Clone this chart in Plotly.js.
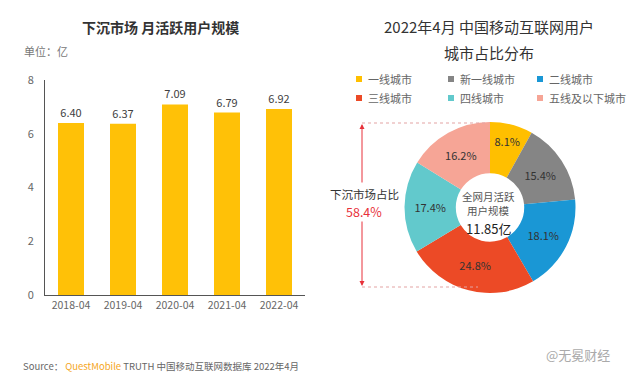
<!DOCTYPE html>
<html>
<head>
<meta charset="utf-8">
<script src="https://cdn.plot.ly/plotly-3.0.1.min.js"></script>
<style>html,body{margin:0;padding:0;background:#fff;}#chart{width:640px;height:378px;}</style>
</head>
<body>
<div id="chart"></div>
<script>
// ---- data ----
const years = ['2018-04', '2019-04', '2020-04', '2021-04', '2022-04'];
const mau = [6.40, 6.37, 7.09, 6.79, 6.92];
const yTicks = [0, 2, 4, 6, 8];

const cityTiers = ['一线城市', '新一线城市', '二线城市', '三线城市', '四线城市', '五线及以下城市'];
const cityShare = [8.1, 15.4, 18.1, 24.8, 17.4, 16.2];
const tierColors = ['#FFBF00', '#858585', '#1A97D5', '#EC4A26', '#62C9CC', '#F6A596'];

const totalMau = '11.85亿';
const lowTierShare = '58.4%';

// ---- helpers (pixel -> paper) ----
const W = 640, H = 378;
const px = x => x / W;
const py = y => 1 - y / H;
const FONT = '"Noto Sans CJK SC", "Noto Sans", sans-serif';

const traces = [
  {
    type: 'bar', x: years, y: mau,
    marker: {color: '#FFC107', line: {width: 0}},
    text: mau.map(v => v.toFixed(2)), textposition: 'outside',
    textfont: {size: 11, color: '#404040', family: FONT},
    cliponaxis: false, hoverinfo: 'skip', showlegend: false,
    xaxis: 'x', yaxis: 'y'
  },
  {
    type: 'pie', labels: cityTiers, values: cityShare,
    marker: {colors: tierColors, line: {width: 0}},
    hole: 0.4, sort: false, direction: 'clockwise', rotation: 0,
    texttemplate: '%{value:.1f}%', textposition: 'inside', insidetextorientation: 'horizontal',
    textfont: {size: 11, color: '#333', family: FONT},
    domain: {x: [px(403), px(577)], y: [py(293), py(122)]},
    showlegend: false, hoverinfo: 'skip'
  }
];

function ann(text, x, y, size, color, extra) {
  return Object.assign({text: text, x: px(x), y: py(y), xref: 'paper', yref: 'paper', xanchor: 'center', yanchor: 'middle',
    showarrow: false, font: {size: size, color: color, family: FONT}}, extra || {});
}

const annotations = [
  ann('下沉市场 月活跃用户规模', 160, 27, 14, '#333', {font: {size: 14, color: '#333', family: FONT, weight: 'bold'}}),
  ann('单位：亿', 22, 51, 11, '#777', {xanchor: 'left'}),
  ann('2022年4月 中国移动互联网用户', 489, 27, 15, '#333'),
  ann('城市占比分布', 489, 52, 15, '#333'),
  ann('全网月活跃', 488, 196, 10.5, '#555'),
  ann('用户规模', 488, 210, 10.5, '#555'),
  ann(totalMau, 488, 228, 13, '#222'),
  ann('下沉市场占比', 364, 194, 11.5, '#333'),
  ann(lowTierShare, 364, 211, 12.5, '#E8303A'),
  // arrows
  {text: '', x: px(362), y: py(124), xref: 'paper', yref: 'paper', showarrow: true, ax: 0, ay: 60,
   arrowhead: 2, arrowsize: 1, arrowwidth: 1, arrowcolor: '#E8303A'},
  {text: '', x: px(362), y: py(286), xref: 'paper', yref: 'paper', showarrow: true, ax: 0, ay: -66,
   arrowhead: 2, arrowsize: 1, arrowwidth: 1, arrowcolor: '#E8303A'},
  // footer
  ann('Source： <span style="color:#F5A623">QuestMobile</span> TRUTH 中国移动互联网数据库 2022年4月', 21, 366, 9.5, '#666', {xanchor: 'left'}),
  ann('@无冕财经', 612, 354, 13, '#aaa', {xanchor: 'right'})
];

const shapes = [
  {type: 'line', xref: 'paper', yref: 'paper', x0: px(362), x1: px(488), y0: py(123), y1: py(123),
   line: {color: '#E3A3A3', width: 1, dash: 'dot'}},
  {type: 'line', xref: 'paper', yref: 'paper', x0: px(362), x1: px(478), y0: py(287), y1: py(287),
   line: {color: '#E3A3A3', width: 1, dash: 'dot'}}
];

// custom legend built from tiers
const legX = [359, 451, 540], legY = [79, 98];
cityTiers.forEach((name, i) => {
  const cx = legX[i % 3], cy = legY[Math.floor(i / 3)];
  shapes.push({type: 'rect', xref: 'paper', yref: 'paper', x0: px(cx - 3), x1: px(cx + 3), y0: py(cy + 3), y1: py(cy - 3),
    fillcolor: tierColors[i], line: {width: 0}});
  annotations.push(ann(name, cx + 7, cy, 11, '#666', {xanchor: 'left'}));
});

const layout = {
  width: W, height: H, margin: {l: 0, r: 0, t: 0, b: 0},
  paper_bgcolor: '#fff', plot_bgcolor: '#fff',
  font: {family: FONT},
  bargap: 0.5,
  xaxis: {type: 'category', domain: [px(45), px(305)], showline: true, linecolor: '#555', linewidth: 1, ticks: '',
    tickfont: {size: 10.5, color: '#666'}, showgrid: false, zeroline: false, fixedrange: true},
  yaxis: {domain: [py(295), py(80)], range: [0, 8], tickvals: yTicks, showline: true, linecolor: '#555', linewidth: 1,
    ticks: '', showgrid: false, zeroline: false, tickfont: {size: 11, color: '#666'}, ticklabelstandoff: 8},
  annotations: annotations,
  shapes: shapes
};

Plotly.newPlot('chart', traces, layout, {staticPlot: true, displayModeBar: false});
</script>
</body>
</html>
